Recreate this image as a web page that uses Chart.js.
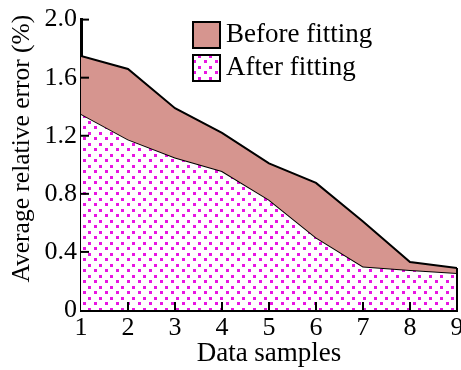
<!DOCTYPE html>
<html>
<head>
<meta charset="utf-8">
<script src="https://cdn.jsdelivr.net/npm/chart.js@4.4.1/dist/chart.umd.min.js"></script>
<style>
  html, body { margin: 0; padding: 0; background: #fff; }
  #wrap { width: 461px; height: 370px; }
</style>
</head>
<body>
<div id="wrap"><canvas id="errChart" width="461" height="370"></canvas></div>
<script>
// data
const samples = [1, 2, 3, 4, 5, 6, 7, 8, 9];
const beforeFitting = [1.75, 1.66, 1.39, 1.22, 1.01, 0.875, 0.61, 0.33, 0.29];
const afterFitting = [1.35, 1.175, 1.05, 0.957, 0.76, 0.50, 0.30, 0.275, 0.255];
const yTicks = [0, 0.4, 0.8, 1.2, 1.6, 2.0];
const seriesNames = ['Before fitting', 'After fitting'];
const yTitle = 'Average relative error (%)';

const FONT = "'Liberation Serif', 'DejaVu Serif', serif";
const roseColor = '#d6958f';
const dotColor = '#e816e2';

// white tile with magenta dots, staggered
function makeDots() {
  const c = document.createElement('canvas');
  c.width = 11; c.height = 11;
  const g = c.getContext('2d');
  g.fillStyle = '#fff';
  g.fillRect(0, 0, 11, 11);
  g.fillStyle = dotColor;
  g.fillRect(0, 0, 3, 3);
  g.fillRect(6, 5, 3, 3);
  return g.createPattern(c, 'repeat');
}
const dots = makeDots();

// inward tick marks, right edge of the band, rotated y title
const tickMarks = {
  id: 'tickMarks',
  afterDraw(chart) {
    const { ctx, scales: { x, y }, chartArea } = chart;
    ctx.save();
    ctx.strokeStyle = '#000';
    ctx.lineWidth = 2;
    const xr = x.getPixelForValue(samples[samples.length - 1]);
    ctx.beginPath();
    ctx.moveTo(xr, y.getPixelForValue(beforeFitting[beforeFitting.length - 1]));
    ctx.lineTo(xr, y.getPixelForValue(0));
    ctx.stroke();
    samples.slice(1, -1).forEach(v => {
      const px = x.getPixelForValue(v);
      ctx.beginPath();
      ctx.moveTo(px, chartArea.bottom);
      ctx.lineTo(px, chartArea.bottom - 8);
      ctx.stroke();
    });
    yTicks.slice(1).forEach(v => {
      const py = y.getPixelForValue(v);
      ctx.beginPath();
      ctx.moveTo(chartArea.left, py);
      ctx.lineTo(chartArea.left + 8, py);
      ctx.stroke();
    });
    // y title, sits a bit above the plot middle like the original
    ctx.translate(22, chartArea.top + 129);
    ctx.rotate(-Math.PI / 2);
    ctx.font = '25.5px ' + FONT;
    ctx.fillStyle = '#000';
    ctx.textAlign = 'center';
    ctx.textBaseline = 'middle';
    ctx.fillText(yTitle, 0, 0);
    ctx.restore();
  }
};

// legend drawn inside the plot
const innerLegend = {
  id: 'innerLegend',
  afterDraw(chart) {
    const { ctx } = chart;
    const fills = [roseColor, dots];
    const bx = 193, by = 22, bw = 27, bh = 26, gap = 33;
    ctx.save();
    ctx.font = '27px ' + FONT;
    ctx.textBaseline = 'middle';
    ctx.textAlign = 'left';
    seriesNames.forEach((name, i) => {
      const top = by + i * gap;
      ctx.fillStyle = fills[i];
      ctx.fillRect(bx, top, bw, bh);
      ctx.strokeStyle = '#000';
      ctx.lineWidth = 2;
      ctx.strokeRect(bx, top, bw, bh);
      ctx.fillStyle = '#000';
      ctx.fillText(name, bx + bw + 6, top + bh / 2);
    });
    ctx.restore();
  }
};

new Chart(document.getElementById('errChart'), {
  type: 'line',
  data: {
    labels: samples,
    datasets: [
      {
        label: seriesNames[0],
        data: samples.map((s, i) => ({ x: s, y: beforeFitting[i] })),
        borderColor: '#000',
        borderWidth: 2,
        backgroundColor: roseColor,
        fill: '+1',
        pointRadius: 0,
        tension: 0
      },
      {
        label: seriesNames[1],
        data: samples.map((s, i) => ({ x: s, y: afterFitting[i] })),
        borderColor: '#000',
        borderWidth: 2,
        backgroundColor: dots,
        fill: 'origin',
        pointRadius: 0,
        tension: 0
      }
    ]
  },
  options: {
    responsive: false,
    animation: false,
    layout: { padding: { top: 19, right: 4, left: 0, bottom: 0 } },
    plugins: { legend: { display: false }, tooltip: { enabled: false } },
    scales: {
      x: {
        type: 'linear',
        min: 1,
        max: 9,
        z: 1,
        grid: { display: false, drawTicks: false },
        border: { display: true, color: '#000', width: 3 },
        ticks: {
          stepSize: 1,
          color: '#000',
          padding: 3,
          maxRotation: 0,
          font: { family: FONT, size: 26 }
        },
        title: {
          display: true,
          text: 'Data samples',
          color: '#000',
          font: { family: FONT, size: 27, lineHeight: 1 },
          padding: { top: 0, bottom: 3 }
        },
        afterFit(scale) {
          scale.height = 60;
          scale.paddingLeft = 0;
          scale.paddingRight = 0;
        }
      },
      y: {
        min: 0,
        max: 2,
        z: 1,
        grid: { display: false, drawTicks: false },
        border: { display: true, color: '#000', width: 3 },
        afterBuildTicks(scale) {
          scale.ticks = yTicks.map(v => ({ value: v }));
        },
        ticks: {
          color: '#000',
          padding: 4,
          font: { family: FONT, size: 26 },
          callback: v => (v === 0 ? '0' : v.toFixed(1))
        },
        afterFit(scale) {
          scale.width = 81;
        }
      }
    }
  },
  plugins: [tickMarks, innerLegend]
});
</script>
</body>
</html>
